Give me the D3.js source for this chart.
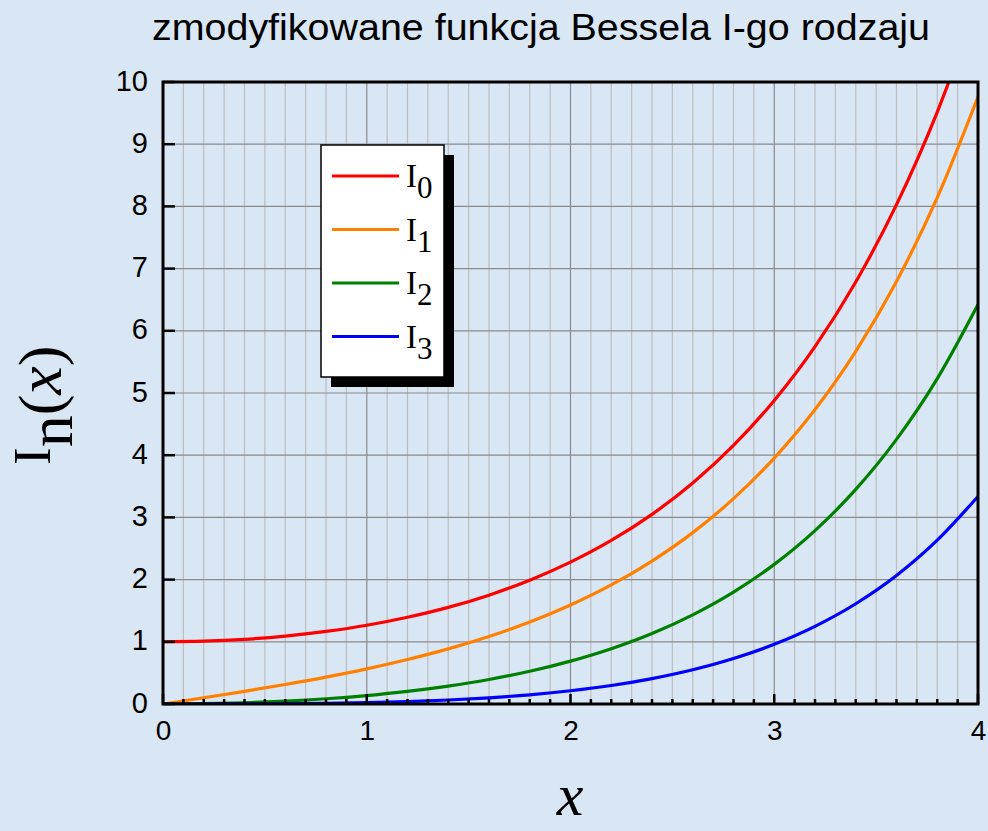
<!DOCTYPE html>
<html>
<head>
<meta charset="utf-8">
<script src="https://cdn.jsdelivr.net/npm/d3@7"></script>
<style>
body{margin:0;background:#d9e7f5;}
svg{display:block;}
</style>
</head>
<body>
<svg id="chart" width="988" height="831"></svg>
<script>
// x samples and curve values
var xs = [0,0.2,0.4,0.6,0.8,1.0,1.2,1.4,1.6,1.8,2.0,2.2,2.4,2.6,2.8,3.0,3.2,3.4,3.6,3.8,4.0];
var i0 = [1.0,1.010,1.040,1.092,1.167,1.266,1.394,1.553,1.750,1.990,2.280,2.629,3.049,3.553,4.157,4.881,5.747,6.785,8.028,9.517,11.302];
var i1 = [0,0.100,0.204,0.314,0.433,0.565,0.715,0.886,1.085,1.317,1.591,1.914,2.298,2.755,3.301,3.953,4.734,5.670,6.793,8.140,9.760];
var i2 = [0,0.005,0.020,0.046,0.084,0.136,0.203,0.288,0.394,0.526,0.689,0.889,1.134,1.434,1.799,2.245,2.788,3.450,4.254,5.231,6.422];
var i3 = [0,0.0002,0.0013,0.0045,0.011,0.022,0.039,0.064,0.100,0.148,0.213,0.297,0.408,0.550,0.731,0.960,1.249,1.612,2.066,2.634,3.337];
var seriesNames = ['0','1','2','3'];
var seriesColors = ['#ff0000','#ff8000','#008000','#0000ff'];
var xTicks = [0,1,2,3,4];
var yTicks = [0,1,2,3,4,5,6,7,8,9,10];

var svg = d3.select('#chart');
var plotL = 163, plotR = 978, plotT = 82, plotB = 704;

var x = d3.scaleLinear().domain([0,4]).range([plotL,plotR]);
var y = d3.scaleLinear().domain([0,10]).range([plotB,plotT]);

// title
svg.append('text')
  .attr('x',541).attr('y',40)
  .attr('text-anchor','middle')
  .attr('textLength',778).attr('lengthAdjust','spacingAndGlyphs')
  .style('font-family','Liberation Sans, Arial, sans-serif')
  .style('font-size','37px')
  .text('zmodyfikowane funkcja Bessela I-go rodzaju');

// grid
var minor = d3.range(0,4.0001,0.1);
svg.append('g').selectAll('line').data(minor).enter().append('line')
  .attr('x1',function(d){return x(d);}).attr('x2',function(d){return x(d);})
  .attr('y1',plotT).attr('y2',plotB)
  .attr('stroke',function(d,i){return i%10==0 ? '#8a8a8a' : '#bdbdbd';})
  .attr('stroke-width',1.2);
svg.append('g').selectAll('line').data(yTicks).enter().append('line')
  .attr('x1',plotL).attr('x2',plotR)
  .attr('y1',function(d){return y(d);}).attr('y2',function(d){return y(d);})
  .attr('stroke','#8a8a8a').attr('stroke-width',1.2);

// curves
svg.append('clipPath').attr('id','clip').append('rect')
  .attr('x',plotL).attr('y',plotT).attr('width',plotR-plotL).attr('height',plotB-plotT);
var line = d3.line().curve(d3.curveMonotoneX)
  .x(function(d){return x(d[0]);}).y(function(d){return y(d[1]);});
var allSeries = [i0,i1,i2,i3];
svg.append('g').attr('clip-path','url(#clip)').selectAll('path').data(allSeries).enter().append('path')
  .attr('d',function(s){return line(xs.map(function(v,k){return [v,s[k]];}));})
  .attr('fill','none')
  .attr('stroke',function(d,i){return seriesColors[i];})
  .attr('stroke-width',3.2);

// axes
var xAxis = d3.axisBottom(x).tickValues(xTicks).tickFormat(d3.format('d')).tickSize(0).tickPadding(16);
var gx = svg.append('g').attr('transform','translate(0,'+plotB+')').call(xAxis);
gx.select('.domain').remove();
gx.selectAll('text').style('font-family','Liberation Sans, Arial, sans-serif').style('font-size','28px').attr('fill','#000');

var yAxis = d3.axisLeft(y).tickValues(yTicks).tickFormat(d3.format('d')).tickSize(0).tickPadding(15);
var gy = svg.append('g').attr('transform','translate('+plotL+',0)').call(yAxis);
gy.select('.domain').remove();
gy.selectAll('text').style('font-family','Liberation Sans, Arial, sans-serif').style('font-size','29px').attr('fill','#000').attr('dy','0.28em');

// inner ticks
svg.append('g').selectAll('line').data(minor).enter().append('line')
  .attr('x1',function(d){return x(d);}).attr('x2',function(d){return x(d);})
  .attr('y1',plotB).attr('y2',function(d,i){return plotB-(i%10==0 ? 10 : 5);})
  .attr('stroke','#000').attr('stroke-width',2.5);
svg.append('g').selectAll('line').data(yTicks).enter().append('line')
  .attr('x1',plotL).attr('x2',plotL+12)
  .attr('y1',function(d){return y(d);}).attr('y2',function(d){return y(d);})
  .attr('stroke','#000').attr('stroke-width',2.5);

// frame
svg.append('rect').attr('x',plotL).attr('y',plotT).attr('width',plotR-plotL).attr('height',plotB-plotT)
  .attr('fill','none').attr('stroke','#000').attr('stroke-width',3);

// axis titles
var yl = svg.append('text')
  .attr('transform','translate(50,465) rotate(-90)')
  .attr('text-anchor','start')
  .style('font-family','Liberation Serif, Times New Roman, serif')
  .style('font-size','53px');
yl.append('tspan').text('I');
yl.append('tspan').attr('dy',22).style('font-size','64px').text('n');
yl.append('tspan').attr('dy',-11).style('font-size','62px').text('(');
yl.append('tspan').style('font-style','italic').style('font-size','64px').text('x');
yl.append('tspan').style('font-size','62px').text(')');

svg.append('text')
  .attr('x',570).attr('y',815)
  .attr('text-anchor','middle')
  .style('font-family','Liberation Serif, Times New Roman, serif')
  .style('font-style','italic')
  .style('font-size','60px')
  .text('x');

// legend
var lg = svg.append('g');
lg.append('rect').attr('x',331).attr('y',155).attr('width',123).attr('height',232).attr('fill','#000');
lg.append('rect').attr('x',321).attr('y',145).attr('width',123).attr('height',232)
  .attr('fill','#fff').attr('stroke','#000').attr('stroke-width',1.5);
var items = lg.selectAll('g.item').data(seriesNames).enter().append('g')
  .attr('transform',function(d,i){return 'translate(0,'+(176+i*53.5)+')';});
items.append('line').attr('x1',332).attr('x2',399).attr('y1',0).attr('y2',0)
  .attr('stroke',function(d,i){return seriesColors[i];}).attr('stroke-width',3);
var lt = items.append('text').attr('x',406).attr('y',11)
  .style('font-family','Liberation Serif, Times New Roman, serif')
  .style('font-size','33px');
lt.append('tspan').text('I');
lt.append('tspan').attr('dy',11).style('font-size','31px').text(function(d){return d;});
</script>
</body>
</html>
